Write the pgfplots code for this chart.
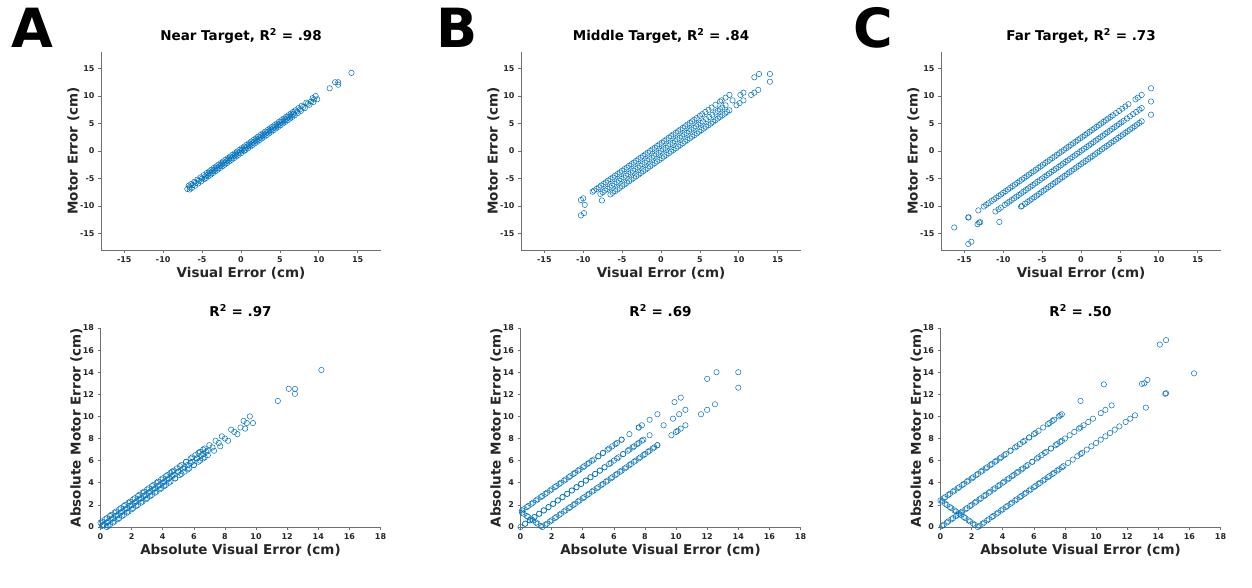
\documentclass[border=0pt]{standalone}
\usepackage{pgfplots}
\pgfplotsset{compat=1.18}
\usepackage{fontspec}
\setmainfont{DejaVu Sans}
\definecolor{mblue}{HTML}{0072BD}
\definecolor{axgray}{HTML}{707070}
\definecolor{txtgray}{HTML}{262626}
\pgfplotsset{
  sc/.style={draw=mblue, only marks, mark=o, mark size=2.7pt, mark options={draw=mblue, fill=none, line width=0.5pt}},
  panel/.style={
    scale only axis, width=280pt,
    axis x line*=bottom, axis y line*=left,
    axis line style={draw=axgray, line width=0.6pt},
    every tick/.style={draw=axgray, line width=0.6pt},
    tick align=outside, major tick length=3pt,
    ticklabel style={font=\fontsize{8}{9}\selectfont\bfseries, text=txtgray},
    /pgf/number format/assume math mode=true,
    label style={font=\fontsize{13.5}{15}\selectfont\bfseries, text=txtgray},
    title style={font=\fontsize{13.5}{15}\selectfont\bfseries, text=black, at={(0.5,1)}, anchor=base, yshift=5.5pt},
    clip=false,
    xlabel style={at={([yshift=-23pt]axis description cs:0.5,0)}, anchor=center},
  },
  toprow/.style={panel, height=198pt, xmin=-18, xmax=18, ymin=-18, ymax=18,
    xtick={-15,-10,...,15}, ytick={-15,-10,...,15},
    xlabel={Visual Error (cm)}, ylabel={Motor Error (cm)},
    ylabel style={at={([xshift=-27.7pt]axis description cs:0,0.5)}, anchor=center}},
  botrow/.style={panel, height=199pt, xmin=0, xmax=18, ymin=0, ymax=18,
    xtick={0,2,...,18}, ytick={0,2,...,18},
    xlabel={Absolute Visual Error (cm)}, ylabel={Absolute Motor Error (cm)},
    ylabel style={at={([xshift=-24pt]axis description cs:0,0.5)}, anchor=center}},
}
\begin{document}
\begin{tikzpicture}
\path[use as bounding box] (0pt,0pt) rectangle (1252pt,588pt);
\node[anchor=base west, inner sep=0pt, font=\fontsize{54}{54}\selectfont\bfseries] at (11pt,540pt) {A};
\node[anchor=base west, inner sep=0pt, font=\fontsize{54}{54}\selectfont\bfseries] at (436pt,540pt) {B};
\node[anchor=base west, inner sep=0pt, font=\fontsize{54}{54}\selectfont\bfseries] at (853pt,540pt) {C};

% ---------- A top
\begin{axis}[toprow, at={(101pt,338pt)}, anchor=south west, title={Near Target, R\textsuperscript{2} = .98}]
\addplot[sc] coordinates {(-6.7,-6.3)(-6.4,-6.0)(-6.0,-5.6)(-5.6,-5.2)(-5.2,-4.8)(-4.8,-4.4)(-4.4,-4.0)(-4.1,-3.7)(-3.8,-3.4)(-3.5,-3.1)(-3.2,-2.8)(-2.9,-2.5)(-2.6,-2.2)(-2.3,-1.9)(-2.0,-1.6)(-1.7,-1.3)(-1.4,-1.0)(-1.1,-0.7)(-0.8,-0.4)(-0.5,-0.1)(-0.2,0.2)(0.1,0.5)(0.4,0.8)(0.7,1.1)(1.0,1.4)(1.3,1.7)(1.6,2.0)(1.9,2.3)(2.2,2.6)(2.5,2.9)(2.8,3.2)(3.1,3.5)(3.4,3.8)(3.7,4.1)(4.0,4.4)(4.3,4.7)(4.6,5.0)(4.9,5.3)(5.2,5.6)(5.5,5.9)(5.8,6.2)(6.1,6.5)(6.4,6.8)(6.7,7.1)(7.0,7.4)(7.4,7.8)(7.8,8.2)(8.4,8.8)(9.2,9.6)(9.6,10.0)(12.1,12.5)
(-6.9,-6.9)(-6.6,-6.6)(-6.2,-6.2)(-5.8,-5.8)(-5.4,-5.4)(-5.0,-5.0)(-4.6,-4.6)(-4.3,-4.3)(-4.0,-4.0)(-3.7,-3.7)(-3.4,-3.4)(-3.1,-3.1)(-2.8,-2.8)(-2.5,-2.5)(-2.2,-2.2)(-1.9,-1.9)(-1.6,-1.6)(-1.3,-1.3)(-1.0,-1.0)(-0.7,-0.7)(-0.4,-0.4)(-0.1,-0.1)(0.2,0.2)(0.5,0.5)(0.8,0.8)(1.1,1.1)(1.4,1.4)(1.7,1.7)(2.0,2.0)(2.3,2.3)(2.6,2.6)(2.9,2.9)(3.2,3.2)(3.5,3.5)(3.8,3.8)(4.1,4.1)(4.4,4.4)(4.7,4.7)(5.0,5.0)(5.3,5.3)(5.6,5.6)(5.9,5.9)(6.2,6.2)(6.5,6.5)(6.8,6.8)(7.2,7.2)(7.6,7.6)(8.0,8.0)(8.6,8.6)(9.0,9.0)(9.4,9.4)(11.4,11.4)(12.5,12.5)(14.2,14.2)
(-6.6,-7.0)(-6.3,-6.7)(-5.9,-6.3)(-5.5,-5.9)(-5.1,-5.5)(-4.7,-5.1)(-4.5,-4.9)(-4.2,-4.6)(-3.9,-4.3)(-3.6,-4.0)(-3.3,-3.7)(-3.0,-3.4)(-2.7,-3.1)(-2.4,-2.8)(-2.1,-2.5)(-1.8,-2.2)(-1.5,-1.9)(-1.2,-1.6)(-0.9,-1.3)(-0.6,-1.0)(-0.3,-0.7)(0.0,-0.4)(0.4,0.0)(0.6,0.2)(0.9,0.5)(1.2,0.8)(1.5,1.1)(1.8,1.4)(2.1,1.7)(2.4,2.0)(2.7,2.3)(3.0,2.6)(3.3,2.9)(3.6,3.2)(3.9,3.5)(4.2,3.8)(4.5,4.1)(4.8,4.4)(5.1,4.7)(5.4,5.0)(5.7,5.3)(6.0,5.6)(6.3,5.9)(6.6,6.2)(6.9,6.5)(7.3,6.9)(7.7,7.3)(8.2,7.8)(8.8,8.4)(9.3,8.9)(9.8,9.4)(12.5,12.05)};
\end{axis}

% ---------- B top
\begin{axis}[toprow, at={(521pt,338pt)}, anchor=south west, title={Middle Target, R\textsuperscript{2} = .84}]
\addplot[sc] coordinates {(-10.3,-8.9)(-10.0,-8.6)(-8.8,-7.4)(-8.6,-7.2)(-8.3,-6.9)(-8.0,-6.6)(-7.7,-6.3)(-7.4,-6.0)(-7.1,-5.7)(-6.8,-5.4)(-6.5,-5.1)(-6.2,-4.8)(-5.9,-4.5)(-5.6,-4.2)(-5.3,-3.9)(-5.0,-3.6)(-4.7,-3.3)(-4.4,-3.0)(-4.1,-2.7)(-3.8,-2.4)(-3.5,-2.1)(-3.2,-1.8)(-2.9,-1.5)(-2.6,-1.2)(-2.3,-0.9)(-2.0,-0.6)(-1.7,-0.3)(-1.4,0.0)(-1.1,0.3)(-0.8,0.6)(-0.5,0.9)(-0.2,1.2)(0.1,1.5)(0.4,1.8)(0.7,2.1)(1.0,2.4)(1.3,2.7)(1.6,3.0)(1.9,3.3)(2.2,3.6)(2.5,3.9)(2.8,4.2)(3.1,4.5)(3.4,4.8)(3.7,5.1)(4.0,5.4)(4.3,5.7)(4.6,6.0)(5.0,6.4)(5.3,6.7)(5.7,7.1)(6.1,7.5)(6.5,7.9)(7.0,8.4)(7.6,9.0)(7.8,9.2)(8.3,9.7)(8.8,10.2)(12.0,13.4)(12.6,14.0)
(-9.8,-9.8)(-7.8,-7.8)(-7.5,-7.5)(-7.2,-7.2)(-6.9,-6.9)(-6.6,-6.6)(-6.3,-6.3)(-6.0,-6.0)(-5.7,-5.7)(-5.4,-5.4)(-5.1,-5.1)(-4.8,-4.8)(-4.5,-4.5)(-4.2,-4.2)(-3.9,-3.9)(-3.6,-3.6)(-3.3,-3.3)(-3.0,-3.0)(-2.7,-2.7)(-2.4,-2.4)(-2.1,-2.1)(-1.8,-1.8)(-1.5,-1.5)(-1.2,-1.2)(-0.9,-0.9)(-0.6,-0.6)(-0.3,-0.3)(0.0,0.0)(0.3,0.3)(0.6,0.6)(0.9,0.9)(1.2,1.2)(1.5,1.5)(1.8,1.8)(2.1,2.1)(2.4,2.4)(2.7,2.7)(3.0,3.0)(3.3,3.3)(3.6,3.6)(3.9,3.9)(4.2,4.2)(4.5,4.5)(4.8,4.8)(5.1,5.1)(5.4,5.4)(5.8,5.8)(6.2,6.2)(6.6,6.6)(7.0,7.0)(7.3,7.3)(7.6,7.6)(7.9,7.9)(8.3,8.3)(9.2,9.2)(10.2,10.2)(10.6,10.6)(14.0,14.0)
(-10.3,-11.7)(-9.9,-11.3)(-7.6,-9.0)(-6.5,-7.9)(-6.2,-7.6)(-5.9,-7.3)(-5.6,-7.0)(-5.3,-6.7)(-5.0,-6.4)(-4.7,-6.1)(-4.4,-5.8)(-4.1,-5.5)(-3.8,-5.2)(-3.5,-4.9)(-3.2,-4.6)(-2.9,-4.3)(-2.6,-4.0)(-2.3,-3.7)(-2.0,-3.4)(-1.7,-3.1)(-1.4,-2.8)(-1.1,-2.5)(-0.8,-2.2)(-0.5,-1.9)(-0.2,-1.6)(0.1,-1.3)(0.4,-1.0)(0.7,-0.7)(1.0,-0.4)(1.3,-0.1)(1.6,0.2)(1.9,0.5)(2.2,0.8)(2.5,1.1)(2.8,1.4)(3.1,1.7)(3.4,2.0)(3.7,2.3)(4.0,2.6)(4.3,2.9)(4.6,3.2)(4.9,3.5)(5.2,3.8)(5.5,4.1)(5.8,4.4)(6.1,4.7)(6.4,5.0)(6.7,5.3)(7.0,5.6)(7.3,5.9)(7.6,6.2)(7.9,6.5)(8.2,6.8)(8.5,7.1)(8.8,7.4)(9.7,8.3)(10.1,8.7)(10.6,9.2)(11.6,10.2)(12.0,10.6)(12.5,11.1)(14.0,12.6)};
\end{axis}

% ---------- C top
\begin{axis}[toprow, at={(941pt,338pt)}, anchor=south west, title={Far Target, R\textsuperscript{2} = .73}]
\addplot[sc] coordinates {(-16.3,-13.9)(-14.5,-12.1)(-14.45,-12.05)(-13.2,-10.8)(-12.5,-10.1)(-12.2,-9.8)(-11.9,-9.5)(-11.5,-9.1)(-11.2,-8.8)(-10.9,-8.5)(-10.6,-8.2)(-10.3,-7.9)(-10.0,-7.6)(-9.7,-7.3)(-9.4,-7.0)(-9.1,-6.7)(-8.8,-6.4)(-8.5,-6.1)(-8.2,-5.8)(-7.9,-5.5)(-7.6,-5.2)(-7.3,-4.9)(-7.0,-4.6)(-6.7,-4.3)(-6.4,-4.0)(-6.1,-3.7)(-5.8,-3.4)(-5.5,-3.1)(-5.2,-2.8)(-4.9,-2.5)(-4.6,-2.2)(-4.3,-1.9)(-4.0,-1.6)(-3.7,-1.3)(-3.4,-1.0)(-3.1,-0.7)(-2.8,-0.4)(-2.5,-0.1)(-2.2,0.2)(-1.9,0.5)(-1.6,0.8)(-1.3,1.1)(-1.0,1.4)(-0.7,1.7)(-0.4,2.0)(-0.1,2.3)(0.2,2.6)(0.5,2.9)(0.8,3.2)(1.1,3.5)(1.4,3.8)(1.7,4.1)(2.0,4.4)(2.3,4.7)(2.6,5.0)(2.9,5.3)(3.2,5.6)(3.5,5.9)(3.8,6.2)(4.1,6.5)(4.5,6.9)(4.9,7.3)(5.3,7.7)(5.7,8.1)(6.1,8.5)(7.0,9.4)(7.3,9.7)(7.8,10.2)(9.0,11.4)
(-13.3,-13.3)(-13.1,-13.0)(-12.95,-12.95)(-11.0,-11.0)(-10.6,-10.6)(-10.3,-10.3)(-9.8,-9.8)(-9.5,-9.5)(-9.2,-9.2)(-8.9,-8.9)(-8.6,-8.6)(-8.3,-8.3)(-8.0,-8.0)(-7.7,-7.7)(-7.4,-7.4)(-7.1,-7.1)(-6.8,-6.8)(-6.5,-6.5)(-6.2,-6.2)(-5.9,-5.9)(-5.6,-5.6)(-5.3,-5.3)(-5.0,-5.0)(-4.7,-4.7)(-4.4,-4.4)(-4.1,-4.1)(-3.8,-3.8)(-3.5,-3.5)(-3.2,-3.2)(-2.9,-2.9)(-2.6,-2.6)(-2.3,-2.3)(-2.0,-2.0)(-1.7,-1.7)(-1.4,-1.4)(-1.1,-1.1)(-0.8,-0.8)(-0.5,-0.5)(-0.2,-0.2)(0.1,0.1)(0.4,0.4)(0.7,0.7)(1.0,1.0)(1.3,1.3)(1.6,1.6)(1.9,1.9)(2.2,2.2)(2.5,2.5)(2.8,2.8)(3.1,3.1)(3.4,3.4)(3.7,3.7)(4.0,4.0)(4.3,4.3)(4.6,4.6)(4.9,4.9)(5.2,5.2)(5.5,5.5)(5.9,5.9)(6.3,6.3)(6.7,6.7)(7.1,7.1)(7.5,7.5)(7.8,7.8)(9.0,9.0)
(-14.5,-16.9)(-14.1,-16.5)(-10.5,-12.9)(-7.7,-10.1)(-7.6,-10.0)(-7.2,-9.6)(-6.9,-9.3)(-6.6,-9.0)(-6.3,-8.7)(-6.0,-8.4)(-5.7,-8.1)(-5.4,-7.8)(-5.1,-7.5)(-4.8,-7.2)(-4.5,-6.9)(-4.2,-6.6)(-3.9,-6.3)(-3.6,-6.0)(-3.3,-5.7)(-3.0,-5.4)(-2.7,-5.1)(-2.4,-4.8)(-2.1,-4.5)(-1.8,-4.2)(-1.5,-3.9)(-1.2,-3.6)(-0.9,-3.3)(-0.6,-3.0)(-0.3,-2.7)(0.0,-2.4)(0.3,-2.1)(0.6,-1.8)(0.9,-1.5)(1.2,-1.2)(1.5,-0.9)(1.8,-0.6)(2.1,-0.3)(2.4,0.0)(2.7,0.3)(3.0,0.6)(3.3,0.9)(3.6,1.2)(3.9,1.5)(4.2,1.8)(4.5,2.1)(4.8,2.4)(5.1,2.7)(5.4,3.0)(5.7,3.3)(6.0,3.6)(6.3,3.9)(6.6,4.2)(6.9,4.5)(7.2,4.8)(7.5,5.1)(7.8,5.4)(9.0,6.6)};
\end{axis}

% ---------- A bottom
\begin{axis}[botrow, at={(100.5pt,61pt)}, anchor=south west, title={R\textsuperscript{2} = .97}]
\addplot[sc] coordinates {(6.7,6.3)(6.4,6.0)(6.0,5.6)(5.6,5.2)(5.2,4.8)(4.8,4.4)(4.4,4.0)(4.1,3.7)(3.8,3.4)(3.5,3.1)(3.2,2.8)(2.9,2.5)(2.6,2.2)(2.3,1.9)(2.0,1.6)(1.7,1.3)(1.4,1.0)(1.1,0.7)(0.8,0.4)(0.5,0.1)(0.2,0.2)(0.1,0.5)(0.4,0.8)(0.7,1.1)(1.0,1.4)(1.3,1.7)(1.6,2.0)(1.9,2.3)(2.2,2.6)(2.5,2.9)(2.8,3.2)(3.1,3.5)(3.4,3.8)(3.7,4.1)(4.0,4.4)(4.3,4.7)(4.6,5.0)(4.9,5.3)(5.2,5.6)(5.5,5.9)(5.8,6.2)(6.1,6.5)(6.4,6.8)(6.7,7.1)(7.0,7.4)(7.4,7.8)(7.8,8.2)(8.4,8.8)(9.2,9.6)(9.6,10.0)(12.1,12.5)
(6.9,6.9)(6.6,6.6)(6.2,6.2)(5.8,5.8)(5.4,5.4)(5.0,5.0)(4.6,4.6)(4.3,4.3)(4.0,4.0)(3.7,3.7)(3.4,3.4)(3.1,3.1)(2.8,2.8)(2.5,2.5)(2.2,2.2)(1.9,1.9)(1.6,1.6)(1.3,1.3)(1.0,1.0)(0.7,0.7)(0.4,0.4)(0.1,0.1)(0.2,0.2)(0.5,0.5)(0.8,0.8)(1.1,1.1)(1.4,1.4)(1.7,1.7)(2.0,2.0)(2.3,2.3)(2.6,2.6)(2.9,2.9)(3.2,3.2)(3.5,3.5)(3.8,3.8)(4.1,4.1)(4.4,4.4)(4.7,4.7)(5.0,5.0)(5.3,5.3)(5.6,5.6)(5.9,5.9)(6.2,6.2)(6.5,6.5)(6.8,6.8)(7.2,7.2)(7.6,7.6)(8.0,8.0)(8.6,8.6)(9.0,9.0)(9.4,9.4)(11.4,11.4)(12.5,12.5)(14.2,14.2)
(6.6,7.0)(6.3,6.7)(5.9,6.3)(5.5,5.9)(5.1,5.5)(4.7,5.1)(4.5,4.9)(4.2,4.6)(3.9,4.3)(3.6,4.0)(3.3,3.7)(3.0,3.4)(2.7,3.1)(2.4,2.8)(2.1,2.5)(1.8,2.2)(1.5,1.9)(1.2,1.6)(0.9,1.3)(0.6,1.0)(0.3,0.7)(0.0,0.4)(0.4,0.0)(0.6,0.2)(0.9,0.5)(1.2,0.8)(1.5,1.1)(1.8,1.4)(2.1,1.7)(2.4,2.0)(2.7,2.3)(3.0,2.6)(3.3,2.9)(3.6,3.2)(3.9,3.5)(4.2,3.8)(4.5,4.1)(4.8,4.4)(5.1,4.7)(5.4,5.0)(5.7,5.3)(6.0,5.6)(6.3,5.9)(6.6,6.2)(6.9,6.5)(7.3,6.9)(7.7,7.3)(8.2,7.8)(8.8,8.4)(9.3,8.9)(9.8,9.4)(12.5,12.05)};
\end{axis}

% ---------- B bottom
\begin{axis}[botrow, at={(520.5pt,61pt)}, anchor=south west, title={R\textsuperscript{2} = .69}]
\addplot[sc] coordinates {(10.3,8.9)(10.0,8.6)(8.8,7.4)(8.6,7.2)(8.3,6.9)(8.0,6.6)(7.7,6.3)(7.4,6.0)(7.1,5.7)(6.8,5.4)(6.5,5.1)(6.2,4.8)(5.9,4.5)(5.6,4.2)(5.3,3.9)(5.0,3.6)(4.7,3.3)(4.4,3.0)(4.1,2.7)(3.8,2.4)(3.5,2.1)(3.2,1.8)(2.9,1.5)(2.6,1.2)(2.3,0.9)(2.0,0.6)(1.7,0.3)(1.4,0.0)(1.1,0.3)(0.8,0.6)(0.5,0.9)(0.2,1.2)(0.1,1.5)(0.4,1.8)(0.7,2.1)(1.0,2.4)(1.3,2.7)(1.6,3.0)(1.9,3.3)(2.2,3.6)(2.5,3.9)(2.8,4.2)(3.1,4.5)(3.4,4.8)(3.7,5.1)(4.0,5.4)(4.3,5.7)(4.6,6.0)(5.0,6.4)(5.3,6.7)(5.7,7.1)(6.1,7.5)(6.5,7.9)(7.0,8.4)(7.6,9.0)(7.8,9.2)(8.3,9.7)(8.8,10.2)(12.0,13.4)(12.6,14.0)
(9.8,9.8)(7.8,7.8)(7.5,7.5)(7.2,7.2)(6.9,6.9)(6.6,6.6)(6.3,6.3)(6.0,6.0)(5.7,5.7)(5.4,5.4)(5.1,5.1)(4.8,4.8)(4.5,4.5)(4.2,4.2)(3.9,3.9)(3.6,3.6)(3.3,3.3)(3.0,3.0)(2.7,2.7)(2.4,2.4)(2.1,2.1)(1.8,1.8)(1.5,1.5)(1.2,1.2)(0.9,0.9)(0.6,0.6)(0.3,0.3)(0.0,0.0)(0.3,0.3)(0.6,0.6)(0.9,0.9)(1.2,1.2)(1.5,1.5)(1.8,1.8)(2.1,2.1)(2.4,2.4)(2.7,2.7)(3.0,3.0)(3.3,3.3)(3.6,3.6)(3.9,3.9)(4.2,4.2)(4.5,4.5)(4.8,4.8)(5.1,5.1)(5.4,5.4)(5.8,5.8)(6.2,6.2)(6.6,6.6)(7.0,7.0)(7.3,7.3)(7.6,7.6)(7.9,7.9)(8.3,8.3)(9.2,9.2)(10.2,10.2)(10.6,10.6)(14.0,14.0)
(10.3,11.7)(9.9,11.3)(7.6,9.0)(6.5,7.9)(6.2,7.6)(5.9,7.3)(5.6,7.0)(5.3,6.7)(5.0,6.4)(4.7,6.1)(4.4,5.8)(4.1,5.5)(3.8,5.2)(3.5,4.9)(3.2,4.6)(2.9,4.3)(2.6,4.0)(2.3,3.7)(2.0,3.4)(1.7,3.1)(1.4,2.8)(1.1,2.5)(0.8,2.2)(0.5,1.9)(0.2,1.6)(0.1,1.3)(0.4,1.0)(0.7,0.7)(1.0,0.4)(1.3,0.1)(1.6,0.2)(1.9,0.5)(2.2,0.8)(2.5,1.1)(2.8,1.4)(3.1,1.7)(3.4,2.0)(3.7,2.3)(4.0,2.6)(4.3,2.9)(4.6,3.2)(4.9,3.5)(5.2,3.8)(5.5,4.1)(5.8,4.4)(6.1,4.7)(6.4,5.0)(6.7,5.3)(7.0,5.6)(7.3,5.9)(7.6,6.2)(7.9,6.5)(8.2,6.8)(8.5,7.1)(8.8,7.4)(9.7,8.3)(10.1,8.7)(10.6,9.2)(11.6,10.2)(12.0,10.6)(12.5,11.1)(14.0,12.6)};
\end{axis}

% ---------- C bottom
\begin{axis}[botrow, at={(940.5pt,61pt)}, anchor=south west, title={R\textsuperscript{2} = .50}]
\addplot[sc] coordinates {(16.3,13.9)(14.5,12.1)(14.45,12.05)(13.2,10.8)(12.5,10.1)(12.2,9.8)(11.9,9.5)(11.5,9.1)(11.2,8.8)(10.9,8.5)(10.6,8.2)(10.3,7.9)(10.0,7.6)(9.7,7.3)(9.4,7.0)(9.1,6.7)(8.8,6.4)(8.5,6.1)(8.2,5.8)(7.9,5.5)(7.6,5.2)(7.3,4.9)(7.0,4.6)(6.7,4.3)(6.4,4.0)(6.1,3.7)(5.8,3.4)(5.5,3.1)(5.2,2.8)(4.9,2.5)(4.6,2.2)(4.3,1.9)(4.0,1.6)(3.7,1.3)(3.4,1.0)(3.1,0.7)(2.8,0.4)(2.5,0.1)(2.2,0.2)(1.9,0.5)(1.6,0.8)(1.3,1.1)(1.0,1.4)(0.7,1.7)(0.4,2.0)(0.1,2.3)(0.2,2.6)(0.5,2.9)(0.8,3.2)(1.1,3.5)(1.4,3.8)(1.7,4.1)(2.0,4.4)(2.3,4.7)(2.6,5.0)(2.9,5.3)(3.2,5.6)(3.5,5.9)(3.8,6.2)(4.1,6.5)(4.5,6.9)(4.9,7.3)(5.3,7.7)(5.7,8.1)(6.1,8.5)(7.0,9.4)(7.3,9.7)(7.8,10.2)(9.0,11.4)
(13.3,13.3)(13.1,13.0)(12.95,12.95)(11.0,11.0)(10.6,10.6)(10.3,10.3)(9.8,9.8)(9.5,9.5)(9.2,9.2)(8.9,8.9)(8.6,8.6)(8.3,8.3)(8.0,8.0)(7.7,7.7)(7.4,7.4)(7.1,7.1)(6.8,6.8)(6.5,6.5)(6.2,6.2)(5.9,5.9)(5.6,5.6)(5.3,5.3)(5.0,5.0)(4.7,4.7)(4.4,4.4)(4.1,4.1)(3.8,3.8)(3.5,3.5)(3.2,3.2)(2.9,2.9)(2.6,2.6)(2.3,2.3)(2.0,2.0)(1.7,1.7)(1.4,1.4)(1.1,1.1)(0.8,0.8)(0.5,0.5)(0.2,0.2)(0.1,0.1)(0.4,0.4)(0.7,0.7)(1.0,1.0)(1.3,1.3)(1.6,1.6)(1.9,1.9)(2.2,2.2)(2.5,2.5)(2.8,2.8)(3.1,3.1)(3.4,3.4)(3.7,3.7)(4.0,4.0)(4.3,4.3)(4.6,4.6)(4.9,4.9)(5.2,5.2)(5.5,5.5)(5.9,5.9)(6.3,6.3)(6.7,6.7)(7.1,7.1)(7.5,7.5)(7.8,7.8)(9.0,9.0)
(14.5,16.9)(14.1,16.5)(10.5,12.9)(7.7,10.1)(7.6,10.0)(7.2,9.6)(6.9,9.3)(6.6,9.0)(6.3,8.7)(6.0,8.4)(5.7,8.1)(5.4,7.8)(5.1,7.5)(4.8,7.2)(4.5,6.9)(4.2,6.6)(3.9,6.3)(3.6,6.0)(3.3,5.7)(3.0,5.4)(2.7,5.1)(2.4,4.8)(2.1,4.5)(1.8,4.2)(1.5,3.9)(1.2,3.6)(0.9,3.3)(0.6,3.0)(0.3,2.7)(0.0,2.4)(0.3,2.1)(0.6,1.8)(0.9,1.5)(1.2,1.2)(1.5,0.9)(1.8,0.6)(2.1,0.3)(2.4,0.0)(2.7,0.3)(3.0,0.6)(3.3,0.9)(3.6,1.2)(3.9,1.5)(4.2,1.8)(4.5,2.1)(4.8,2.4)(5.1,2.7)(5.4,3.0)(5.7,3.3)(6.0,3.6)(6.3,3.9)(6.6,4.2)(6.9,4.5)(7.2,4.8)(7.5,5.1)(7.8,5.4)(9.0,6.6)};
\end{axis}
\end{tikzpicture}
\end{document}
